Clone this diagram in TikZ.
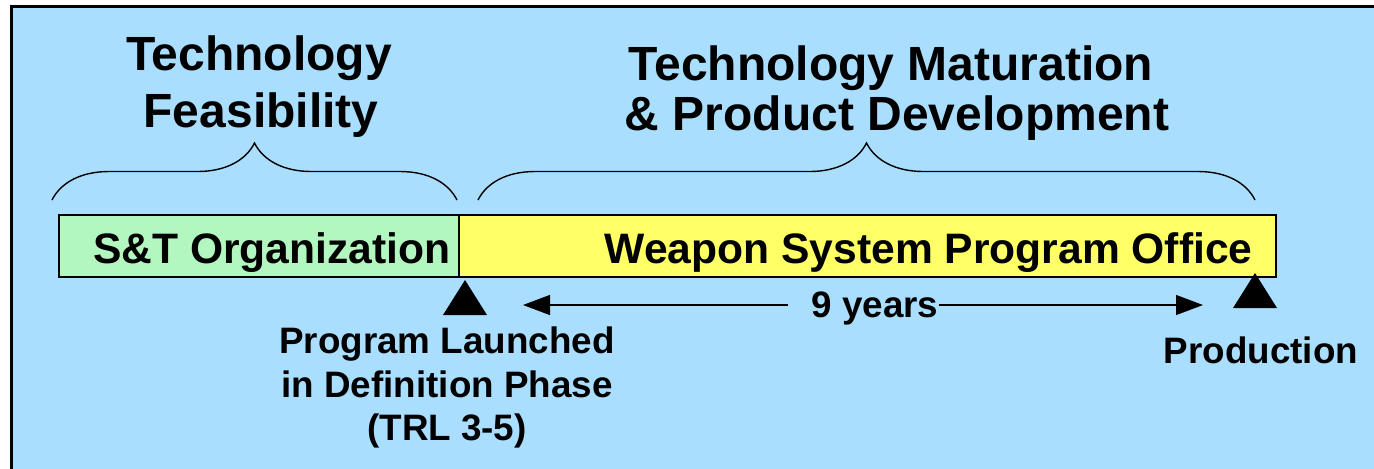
\documentclass[tikz,border=0pt]{standalone}
\usepackage{fontspec}
\setmainfont{Liberation Sans}
\usetikzlibrary{arrows.meta,decorations.pathreplacing}
\definecolor{frameblue}{HTML}{AADEFF}
\definecolor{stgreen}{HTML}{B3F7C0}
\definecolor{wpyellow}{HTML}{FFFF66}

\tikzset{
  head/.style={font=\fontsize{24pt}{28pt}\selectfont\bfseries, anchor=base, inner sep=0},
  bartext/.style={font=\fontsize{21.3pt}{25pt}\selectfont\bfseries, anchor=base east, inner sep=0},
  note/.style={font=\fontsize{18.4pt}{22pt}\selectfont\bfseries, anchor=base, inner sep=0},
  bar/.style={draw=black, line width=1pt, minimum height=31pt, inner sep=0},
  brace/.style={decorate, decoration={brace, amplitude=28.5pt}, line width=0.7pt},
  span/.style={-{Triangle[length=13.5pt,width=10pt]}, line width=0.6pt},
}

\begin{document}
\begin{tikzpicture}[x=0.5pt,y=-0.5pt]
\useasboundingbox (0,0) rectangle (1374,468);
\fill[frameblue] (11,6.5) rectangle (1380,475);
\draw[line width=1.5pt] (11,475) -- (11,6.5) -- (1380,6.5);

% phase headings
\node[head] (feas1) at (259,70)  {Technology};
\node[head] (feas2) at (261,127) {Feasibility};
\node[head] (mat1)  at (891,80)  {Technology Maturation};
\node[head] (mat2)  at (897,130) {\& Product Development};

\coordinate (feasL) at (52,200);
\coordinate (feasR) at (457,200);
\coordinate (matL)  at (478,200);
\coordinate (matR)  at (1255,200);

\draw[brace] (feasL) -- (feasR);
\draw[brace] (matL) -- (matR);

% bars
\node[bar, fill=stgreen, minimum width=200pt]  (stbar) at (259,246)   {};
\node[bar, fill=wpyellow, minimum width=408.5pt] (wpbar) at (867.5,246) {};
\node[bartext] (sttext) at (451,263)  {S\&T Organization};
\node[bartext] (wptext) at (1253,263) {Weapon System Program Office};

% milestones
\coordinate (launch) at (465,280);
\coordinate (prod)   at (1255,273);
\fill (launch) -- ++(-22,35) -- ++(44,0) -- cycle;
\fill (prod) -- ++(-22,35) -- ++(44,0) -- cycle;

\node[note] (launch1)  at (447,353)  {Program Launched};
\node[note] (launch2)  at (447,397)  {in Definition Phase};
\node[note] (launch3)  at (447,440)  {(TRL 3-5)};
\node[note] (prodtext) at (1261,363) {Production};

% duration
\coordinate (spanL) at (523,305);
\coordinate (spanR) at (1203,305);
\node[note] (years) at (875,317) {9 years};
\draw[span] ([xshift=-11.5pt]years.west |- spanL) -- (spanL);
\draw[span] (years.east |- spanR) -- (spanR);
\end{tikzpicture}
\end{document}
